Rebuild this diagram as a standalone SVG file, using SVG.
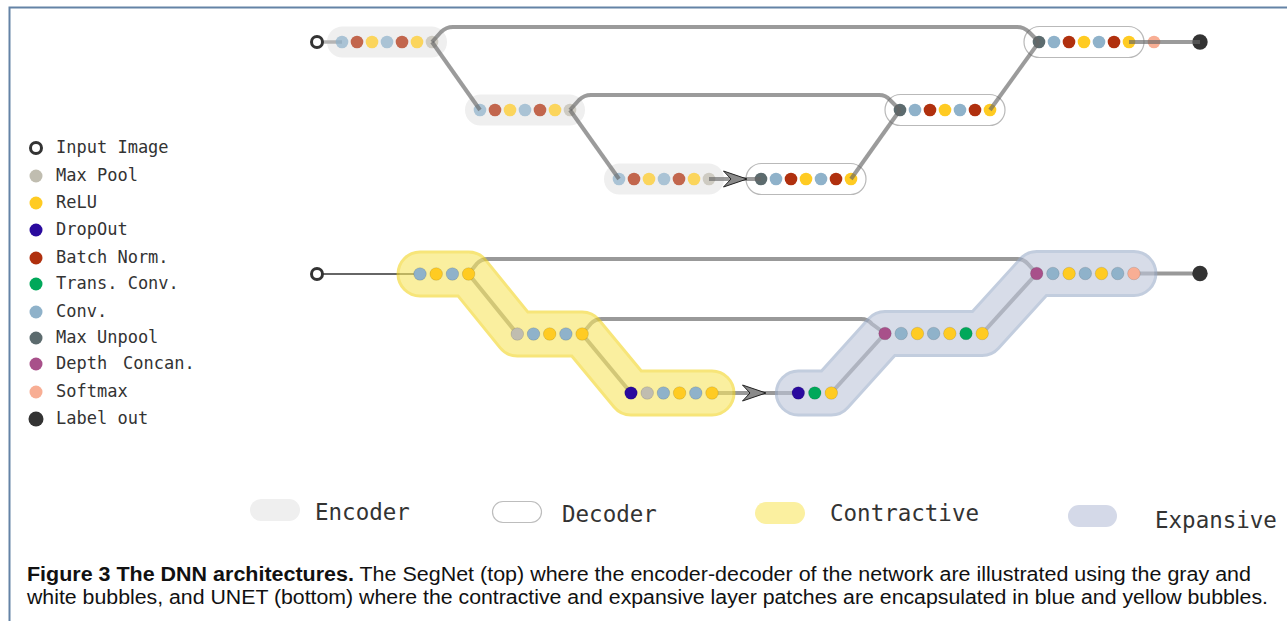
<svg xmlns="http://www.w3.org/2000/svg" width="1287" height="621" viewBox="0 0 1287 621">
  <style>
    .frame { fill: none; stroke: #6483a6; stroke-width: 2; }
    .lg { font-family: "DejaVu Sans Mono", "Liberation Mono", monospace; font-size: 17px; fill: #333; }
    .lg2 { font-family: "DejaVu Sans Mono", "Liberation Mono", monospace; font-size: 22.5px; fill: #333; }
    .cap { font-family: "Liberation Sans", "DejaVu Sans", sans-serif; font-size: 19.5px; fill: #111; }
    .enc-bub { fill: #efefef; }
    .dec-bub { fill: #fff; stroke: #b9b9b9; stroke-width: 1.2; }
    .enc circle { opacity: 0.72; }
    .mp { fill: #c0bdb0; }
    .re { fill: #ffcb22; }
    .dr { fill: #2a0a9e; }
    .bn { fill: #b0300e; }
    .tc { fill: #00a85a; }
    .cv { fill: #8fb2ca; }
    .mu { fill: #5c6b6e; }
    .dc { fill: #a8508a; }
    .sm { fill: #f8ae94; }
    .lo { fill: #333; }
    .ring { fill: #fff; stroke: #333; stroke-width: 3; }
    .u circle { stroke: rgba(0,0,0,0.14); stroke-width: 0.8; }
    .seg { fill: none; stroke: #666; stroke-opacity: 0.65; stroke-width: 4; stroke-linejoin: round; }
    .ulink { fill: none; stroke: #999; stroke-width: 4; stroke-linejoin: round; }
    .band { fill: none; stroke-linecap: round; stroke-linejoin: round; }
  </style>
  <defs>
    <marker id="dart" viewBox="0 0 25 17" refX="24" refY="8.5" markerWidth="25" markerHeight="17" markerUnits="userSpaceOnUse" orient="auto" overflow="visible">
      <path d="M0.5,0.5 L24,8.5 L0.5,16.5 L8,8.5 Z" fill="#8a8a8a" stroke="#222" stroke-width="1" stroke-linejoin="miter"/>
    </marker>
  </defs>

  <!-- page frame -->
  <path class="frame" d="M9.5,621 L9.5,7.5 L1287,7.5"/>

  <!-- ===================== SegNet ===================== -->
  <g id="segnet-bubbles">
    <rect class="enc-bub" x="327" y="26.5" width="120" height="31" rx="15.5"/>
    <rect class="enc-bub" x="465" y="94.5" width="120" height="31" rx="15.5"/>
    <rect class="enc-bub" x="604" y="163.5" width="120" height="31" rx="15.5"/>
    <rect class="dec-bub" x="746" y="163.5" width="120" height="31" rx="15.5"/>
    <rect class="dec-bub" x="885" y="94.5" width="120" height="31" rx="15.5"/>
    <rect class="dec-bub" x="1024" y="26.5" width="120" height="31" rx="15.5"/>
  </g>

  <g id="segnet-input-link">
    <path d="M317,42 L342,42" stroke="#b4b4b4" stroke-width="3.5"/>
  </g>

  <g id="seg-input"><circle class="ring" cx="317" cy="42" r="5.5"/></g>

  <g id="seg-enc1" class="enc">
    <circle class="cv" cx="342" cy="42" r="6.3"/>
    <circle class="bn" cx="357" cy="42" r="6.3"/>
    <circle class="re" cx="372" cy="42" r="6.3"/>
    <circle class="cv" cx="387" cy="42" r="6.3"/>
    <circle class="bn" cx="402" cy="42" r="6.3"/>
    <circle class="re" cx="417" cy="42" r="6.3"/>
    <circle class="mp" cx="432" cy="42" r="6.3"/>
  </g>
  <g id="seg-enc2" class="enc">
    <circle class="cv" cx="480" cy="110" r="6.3"/>
    <circle class="bn" cx="495" cy="110" r="6.3"/>
    <circle class="re" cx="510" cy="110" r="6.3"/>
    <circle class="cv" cx="525" cy="110" r="6.3"/>
    <circle class="bn" cx="540" cy="110" r="6.3"/>
    <circle class="re" cx="555" cy="110" r="6.3"/>
    <circle class="mp" cx="570" cy="110" r="6.3"/>
  </g>
  <g id="seg-enc3" class="enc">
    <circle class="cv" cx="619" cy="179" r="6.3"/>
    <circle class="bn" cx="634" cy="179" r="6.3"/>
    <circle class="re" cx="649" cy="179" r="6.3"/>
    <circle class="cv" cx="664" cy="179" r="6.3"/>
    <circle class="bn" cx="679" cy="179" r="6.3"/>
    <circle class="re" cx="694" cy="179" r="6.3"/>
    <circle class="mp" cx="709" cy="179" r="6.3"/>
  </g>
  <g id="seg-dec3">
    <circle class="mu" cx="761" cy="179" r="6.3"/>
    <circle class="cv" cx="776" cy="179" r="6.3"/>
    <circle class="bn" cx="791" cy="179" r="6.3"/>
    <circle class="re" cx="806" cy="179" r="6.3"/>
    <circle class="cv" cx="821" cy="179" r="6.3"/>
    <circle class="bn" cx="836" cy="179" r="6.3"/>
    <circle class="re" cx="851" cy="179" r="6.3"/>
  </g>
  <g id="seg-dec2">
    <circle class="mu" cx="900" cy="110" r="6.3"/>
    <circle class="cv" cx="915" cy="110" r="6.3"/>
    <circle class="bn" cx="930" cy="110" r="6.3"/>
    <circle class="re" cx="945" cy="110" r="6.3"/>
    <circle class="cv" cx="960" cy="110" r="6.3"/>
    <circle class="bn" cx="975" cy="110" r="6.3"/>
    <circle class="re" cx="990" cy="110" r="6.3"/>
  </g>
  <g id="seg-dec1">
    <circle class="mu" cx="1039" cy="42" r="6.3"/>
    <circle class="cv" cx="1054" cy="42" r="6.3"/>
    <circle class="bn" cx="1069" cy="42" r="6.3"/>
    <circle class="re" cx="1084" cy="42" r="6.3"/>
    <circle class="cv" cx="1099" cy="42" r="6.3"/>
    <circle class="bn" cx="1114" cy="42" r="6.3"/>
    <circle class="re" cx="1129" cy="42" r="6.3"/>
    <circle class="sm" cx="1154" cy="42" r="6.3"/>
  </g>
  <g id="seg-output"><circle class="lo" cx="1200" cy="42" r="7.7"/></g>

  <g id="segnet-connectors">
    <path class="seg" d="M432,42 L441,32 Q446,27 453,27 L1017,27 Q1024,27 1029,32 L1039,42"/>
    <path class="seg" d="M432,42 L480,110"/>
    <path class="seg" d="M570,110 L579,100 Q584,95 591,95 L879,95 Q886,95 890,100 L900,110"/>
    <path class="seg" d="M570,110 L619,179"/>
    <path class="seg" d="M709,179 L747,179 L761,179" marker-mid="url(#dart)"/>
    <path class="seg" d="M851,179 L900,110"/>
    <path class="seg" d="M990,110 L1039,42"/>
    <path class="seg" d="M1129,42 L1200,42"/>
  </g>

  <!-- ===================== UNET ===================== -->
  <g id="unet-connectors">
    <path d="M317,274 L420,274" stroke="#333" stroke-width="1.6"/>
    <path class="ulink" d="M468.6,274 L477,263.5 Q481,259 488,259 L1017,259 Q1024,259 1028,264 L1036.7,273.5"/>
    <path class="ulink" d="M468.6,274 L517.3,334"/>
    <path class="ulink" d="M582.1,334 L591,323.5 Q595,319 602,319 L861,319 Q868,319 872,324 L885,333.5"/>
    <path class="ulink" d="M582.1,334 L631,393"/>
    <path class="ulink" d="M712,393 L766,393 L798.3,393" marker-mid="url(#dart)"/>
    <path class="ulink" d="M831.3,393 L885,333.5"/>
    <path class="ulink" d="M982.2,333.5 L1036.7,273.5"/>
    <path class="ulink" d="M1133.9,273.5 L1200,273.5"/>
  </g>

  <g id="contractive-band" opacity="0.6">
    <path class="band" d="M420,274 L468.6,274 L517.3,334 L582.1,334 L631,393 L712,393" stroke="#f2d521" stroke-width="47"/>
    <path class="band" d="M420,274 L468.6,274 L517.3,334 L582.1,334 L631,393 L712,393" stroke="#f8e661" stroke-width="41"/>
  </g>
  <g id="expansive-band" opacity="0.6">
    <path class="band" d="M798.3,393 L831.3,393 L885,333.5 L982.2,333.5 L1036.7,273.5 L1133.9,273.5" stroke="#9bacc9" stroke-width="47"/>
    <path class="band" d="M798.3,393 L831.3,393 L885,333.5 L982.2,333.5 L1036.7,273.5 L1133.9,273.5" stroke="#bec6da" stroke-width="41"/>
  </g>

  <g id="unet-input"><circle class="ring" cx="317" cy="274" r="5.5"/></g>

  <g id="unet-c1" class="u">
    <circle class="cv" cx="420" cy="274" r="6.3"/>
    <circle class="re" cx="436.2" cy="274" r="6.3"/>
    <circle class="cv" cx="452.4" cy="274" r="6.3"/>
    <circle class="re" cx="468.6" cy="274" r="6.3"/>
  </g>
  <g id="unet-c2" class="u">
    <circle class="mp" cx="517.3" cy="334" r="6.3"/>
    <circle class="cv" cx="533.5" cy="334" r="6.3"/>
    <circle class="re" cx="549.7" cy="334" r="6.3"/>
    <circle class="cv" cx="565.9" cy="334" r="6.3"/>
    <circle class="re" cx="582.1" cy="334" r="6.3"/>
  </g>
  <g id="unet-c3" class="u">
    <circle class="dr" cx="631" cy="393" r="6.3"/>
    <circle class="mp" cx="647.2" cy="393" r="6.3"/>
    <circle class="cv" cx="663.4" cy="393" r="6.3"/>
    <circle class="re" cx="679.6" cy="393" r="6.3"/>
    <circle class="cv" cx="695.8" cy="393" r="6.3"/>
    <circle class="re" cx="712" cy="393" r="6.3"/>
  </g>
  <g id="unet-e3" class="u">
    <circle class="dr" cx="798.3" cy="393" r="6.3"/>
    <circle class="tc" cx="814.8" cy="393" r="6.3"/>
    <circle class="re" cx="831.3" cy="393" r="6.3"/>
  </g>
  <g id="unet-e2" class="u">
    <circle class="dc" cx="885" cy="333.5" r="6.3"/>
    <circle class="cv" cx="901.2" cy="333.5" r="6.3"/>
    <circle class="re" cx="917.4" cy="333.5" r="6.3"/>
    <circle class="cv" cx="933.6" cy="333.5" r="6.3"/>
    <circle class="re" cx="949.8" cy="333.5" r="6.3"/>
    <circle class="tc" cx="966" cy="333.5" r="6.3"/>
    <circle class="re" cx="982.2" cy="333.5" r="6.3"/>
  </g>
  <g id="unet-e1" class="u">
    <circle class="dc" cx="1036.7" cy="273.5" r="6.3"/>
    <circle class="cv" cx="1052.9" cy="273.5" r="6.3"/>
    <circle class="re" cx="1069.1" cy="273.5" r="6.3"/>
    <circle class="cv" cx="1085.3" cy="273.5" r="6.3"/>
    <circle class="re" cx="1101.5" cy="273.5" r="6.3"/>
    <circle class="cv" cx="1117.7" cy="273.5" r="6.3"/>
    <circle class="sm" cx="1133.9" cy="273.5" r="6.3"/>
  </g>
  <g id="unet-output"><circle class="lo" cx="1200" cy="273.5" r="7.7"/></g>

  <!-- ===================== layer legend ===================== -->
  <g id="legend-layers">
    <circle class="ring" cx="36" cy="148" r="5.5"/><text class="lg" x="56" y="153">Input Image</text>
    <circle class="mp" cx="36" cy="176" r="6.5"/><text class="lg" x="56" y="181">Max Pool</text>
    <circle class="re" cx="36" cy="203" r="6.5"/><text class="lg" x="56" y="208">ReLU</text>
    <circle class="dr" cx="36" cy="230" r="6.5"/><text class="lg" x="56" y="235">DropOut</text>
    <circle class="bn" cx="36" cy="258" r="6.5"/><text class="lg" x="56" y="263">Batch Norm.</text>
    <circle class="tc" cx="36" cy="284" r="6.5"/><text class="lg" x="56" y="289">Trans. Conv.</text>
    <circle class="cv" cx="36" cy="312" r="6.5"/><text class="lg" x="56" y="317">Conv.</text>
    <circle class="mu" cx="36" cy="338" r="6.5"/><text class="lg" x="56" y="343">Max Unpool</text>
    <circle class="dc" cx="36" cy="364" r="6.5"/><text class="lg" x="56" y="369">Depth<tspan x="123">Concan.</tspan></text>
    <circle class="sm" cx="36" cy="392" r="6.5"/><text class="lg" x="56" y="397">Softmax</text>
    <circle class="lo" cx="36" cy="419" r="7.5"/><text class="lg" x="56" y="424">Label out</text>
  </g>

  <!-- ===================== region legend ===================== -->
  <g id="legend-regions">
    <rect x="250" y="499" width="50" height="22" rx="11" fill="#efefef"/>
    <text class="lg2" x="315" y="520">Encoder</text>
    <rect x="492.5" y="501.5" width="49" height="21" rx="10.5" fill="#fff" stroke="#bdbdbd" stroke-width="1.2"/>
    <text class="lg2" x="562" y="522">Decoder</text>
    <rect x="755" y="502" width="50" height="22" rx="11" fill="#fbf0a0"/>
    <text class="lg2" x="830" y="521">Contractive</text>
    <rect x="1068" y="505" width="49" height="22" rx="11" fill="#d4d9e8"/>
    <text class="lg2" x="1155" y="528">Expansive</text>
  </g>

  <!-- ===================== caption ===================== -->
  <g id="caption">
    <text class="cap" x="27" y="581" textLength="1224" lengthAdjust="spacingAndGlyphs"><tspan font-weight="bold">Figure 3 The DNN architectures.</tspan> The SegNet (top) where the encoder-decoder of the network are illustrated using the gray and</text>
    <text class="cap" x="27" y="604" textLength="1241" lengthAdjust="spacingAndGlyphs">white bubbles, and UNET (bottom) where the contractive and expansive layer patches are encapsulated in blue and yellow bubbles.</text>
  </g>
</svg>
